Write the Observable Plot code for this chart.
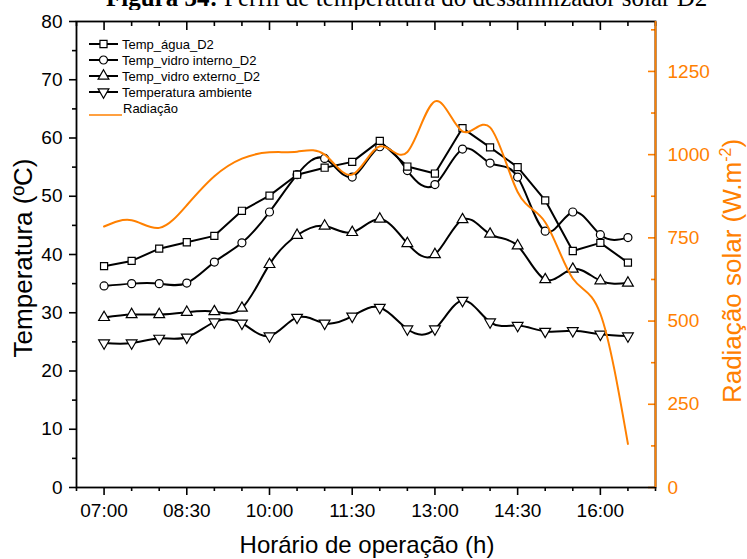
<!DOCTYPE html>
<html><head><meta charset="utf-8">
<script src="https://cdn.jsdelivr.net/npm/d3@7"></script>
<script src="https://cdn.jsdelivr.net/npm/@observablehq/plot@0.6"></script>
<style>
body{margin:0;background:#fff;}
#title{position:relative;height:10px;overflow:hidden;width:747px;}
#title div{position:absolute;left:106px;top:-14px;font-family:"Liberation Serif","Times New Roman",serif;font-size:25px;line-height:23px;white-space:nowrap;color:#000;}
</style></head><body>
<div id="title"><div><b>Figura 34:</b> Perfil de temperatura do dessalinizador solar D2</div></div>
<div id="chart"></div>
<script>
// Data (hours as decimal, 07:00 .. 16:30 every 30 min)
const hours = [7, 7.5, 8, 8.5, 9, 9.5, 10, 10.5, 11, 11.5, 12, 12.5, 13, 13.5, 14, 14.5, 15, 15.5, 16, 16.5];
const tempAgua = [38.0, 38.9, 41.0, 42.1, 43.2, 47.5, 50.1, 53.7, 54.9, 55.9, 59.5, 55.1, 53.9, 61.7, 58.4, 55.0, 49.3, 40.6, 42.0, 38.6];
const tempVidroInt = [34.6, 35.0, 35.0, 35.1, 38.7, 42.0, 47.3, 53.7, 56.5, 53.3, 58.5, 54.4, 52.0, 58.1, 55.7, 53.3, 44.0, 47.3, 43.4, 42.9];
const tempVidroExt = [29.2, 29.7, 29.7, 30.1, 30.2, 30.8, 38.3, 43.3, 44.9, 43.8, 46.1, 41.9, 40.0, 46.0, 43.5, 41.5, 35.7, 37.5, 35.5, 35.1];
const tempAmbiente = [24.8, 24.8, 25.6, 25.8, 28.4, 28.2, 26.0, 29.2, 28.2, 29.4, 30.9, 27.2, 27.2, 32.1, 28.4, 27.8, 26.8, 26.9, 26.3, 26.0];
const radiacao = [784, 803, 780, 848, 935, 988, 1007, 1009, 1000, 940, 1025, 1008, 1160, 1070, 1082, 888, 797, 628, 522, 131];

const xMajor = [7, 8.5, 10, 11.5, 13, 14.5, 16];
const xMinor = [6.5, 7.5, 8, 9, 9.5, 10.5, 11, 12, 12.5, 13.5, 14, 15, 15.5, 16.5, 17];
const yMajor = [0, 10, 20, 30, 40, 50, 60, 70, 80];
const yMinor = [5, 15, 25, 35, 45, 55, 65, 75];
const radMajor = [0, 250, 500, 750, 1000, 1250];
const radMinor = [125, 375, 625, 875, 1125, 1375];

const seriesLabels = ["Temp_água_D2", "Temp_vidro interno_D2", "Temp_vidro externo_D2", "Temperatura ambiente", "Radiação"];

const K = 80 / 1400; // radiation -> temperature axis
const orange = "#ff8000";
const font = "Liberation Sans, Arial, sans-serif";

const rows = hours.map((h, i) => ({h, agua: tempAgua[i], vint: tempVidroInt[i], vext: tempVidroExt[i], amb: tempAmbiente[i], rad: radiacao[i]}));

const sqrt3 = Math.sqrt(3);
const triangleDown = {
  draw(context, size) {
    const y = Math.sqrt(size / (sqrt3 * 3));
    context.moveTo(0, y * 2);
    context.lineTo(-sqrt3 * y, -y);
    context.lineTo(sqrt3 * y, -y);
    context.closePath();
  }
};

const fmt = h => { const H = Math.floor(h); const M = Math.round((h - H) * 60); return String(H).padStart(2, "0") + ":" + String(M).padStart(2, "0"); };

const lw = 2, sw = 1.6, mr = 4;
const chart = Plot.plot({
  width: 747, height: 549,
  marginTop: 11, marginBottom: 72, marginLeft: 76, marginRight: 92,
  style: {fontFamily: font, fontSize: "19px", background: "white", color: "black", overflow: "visible"},
  x: {domain: [6.5, 17]},
  y: {domain: [0, 80]},
  marks: [
    Plot.axisX({ticks: xMajor, tickSize: 8, tickPadding: 8, tickFormat: fmt, strokeWidth: sw, fontSize: 19, label: null}),
    Plot.axisX({ticks: xMinor, tickSize: 4, fill: null, strokeWidth: sw, label: null}),
    Plot.axisX({anchor: "top", ticks: xMajor, tickSize: -8, fill: null, strokeWidth: sw, label: null}),
    Plot.axisX({anchor: "top", ticks: xMinor, tickSize: -4, fill: null, strokeWidth: sw, label: null}),
    Plot.axisY({ticks: yMajor, tickSize: 7, tickPadding: 7, strokeWidth: sw, fontSize: 19, label: null}),
    Plot.axisY({ticks: yMinor, tickSize: 4, fill: null, strokeWidth: sw, label: null}),
    Plot.axisY({anchor: "right", ticks: radMajor.map(r => r * K), tickSize: -8, tickPadding: 20, tickFormat: v => String(Math.round(v / K)), color: orange, strokeWidth: sw, fontSize: 19, label: null}),
    Plot.axisY({anchor: "right", ticks: radMinor.map(r => r * K), tickSize: -5, stroke: orange, fill: null, strokeWidth: sw, label: null}),
    Plot.frame({stroke: "black", strokeWidth: 1.8}),
    Plot.ruleX([17], {stroke: orange, strokeWidth: 1.8}),
    // lines
    Plot.line(rows, {x: "h", y: "amb", curve: "natural", stroke: "black", strokeWidth: lw}),
    Plot.line(rows, {x: "h", y: "vext", curve: "natural", stroke: "black", strokeWidth: lw}),
    Plot.line(rows, {x: "h", y: "vint", curve: "natural", stroke: "black", strokeWidth: lw}),
    Plot.line(rows, {x: "h", y: "agua", curve: "linear", stroke: "black", strokeWidth: lw}),
    Plot.dot(rows, {x: "h", y: "amb", symbol: triangleDown, r: mr, fill: "white", stroke: "black", strokeWidth: 1.2}),
    Plot.dot(rows, {x: "h", y: "vext", symbol: "triangle", r: mr, fill: "white", stroke: "black", strokeWidth: 1.2}),
    Plot.dot(rows, {x: "h", y: "vint", symbol: "circle", r: mr, fill: "white", stroke: "black", strokeWidth: 1.2}),
    Plot.dot(rows, {x: "h", y: "agua", symbol: "square", r: mr, fill: "white", stroke: "black", strokeWidth: 1.2}),
    Plot.line(rows, {x: "h", y: d => d.rad * K, curve: "natural", stroke: orange, strokeWidth: 2})
  ]
});
document.getElementById("chart").appendChild(chart);

// Axis titles and legend
const svg = d3.select(chart);
svg.append("text").attr("x", 367).attr("y", 543).attr("text-anchor", "middle")
  .attr("font-family", font).attr("font-size", 24).attr("fill", "black").text("Horário de operação (h)");
svg.append("text").attr("transform", "translate(23,248) rotate(-90)").attr("text-anchor", "middle").attr("dy", "0.35em")
  .attr("font-family", font).attr("font-size", 26).attr("fill", "black").text("Temperatura (ºC)");
const rt = svg.append("text").attr("transform", "translate(732,261) rotate(-90)").attr("text-anchor", "middle").attr("dy", "0.35em")
  .attr("font-family", font).attr("font-size", 26).attr("fill", orange);
rt.append("tspan").text("Radiação solar (W.m");
rt.append("tspan").attr("font-size", 16).attr("dy", -10).text("-2");
rt.append("tspan").attr("dy", 10).text(")");

const syms = [d3.symbolSquare, d3.symbolCircle, d3.symbolTriangle, triangleDown];
const lg = svg.append("g").attr("font-family", font).attr("font-size", 13).attr("text-anchor", "start");
seriesLabels.forEach((lab, i) => {
  const y = 34 + 16 * i;
  if (i < 4) {
    lg.append("line").attr("x1", 89).attr("x2", 118).attr("y1", y).attr("y2", y).attr("stroke", "black").attr("stroke-width", 2);
    lg.append("path").attr("transform", `translate(103.5,${y})`).attr("d", d3.symbol().type(syms[i]).size(Math.PI * mr * mr)())
      .attr("fill", "white").attr("stroke", "black").attr("stroke-width", 1.2);
    lg.append("text").attr("x", 122).attr("y", y).attr("dy", "0.35em").attr("text-anchor", "start").attr("fill", "black").text(lab);
  } else {
    lg.append("line").attr("x1", 89).attr("x2", 122).attr("y1", y + 7).attr("y2", y + 7).attr("stroke", orange).attr("stroke-width", 1.5);
    lg.append("text").attr("x", 123).attr("y", y).attr("dy", "0.35em").attr("text-anchor", "start").attr("fill", "black").text(lab);
  }
});
</script>
</body></html>
